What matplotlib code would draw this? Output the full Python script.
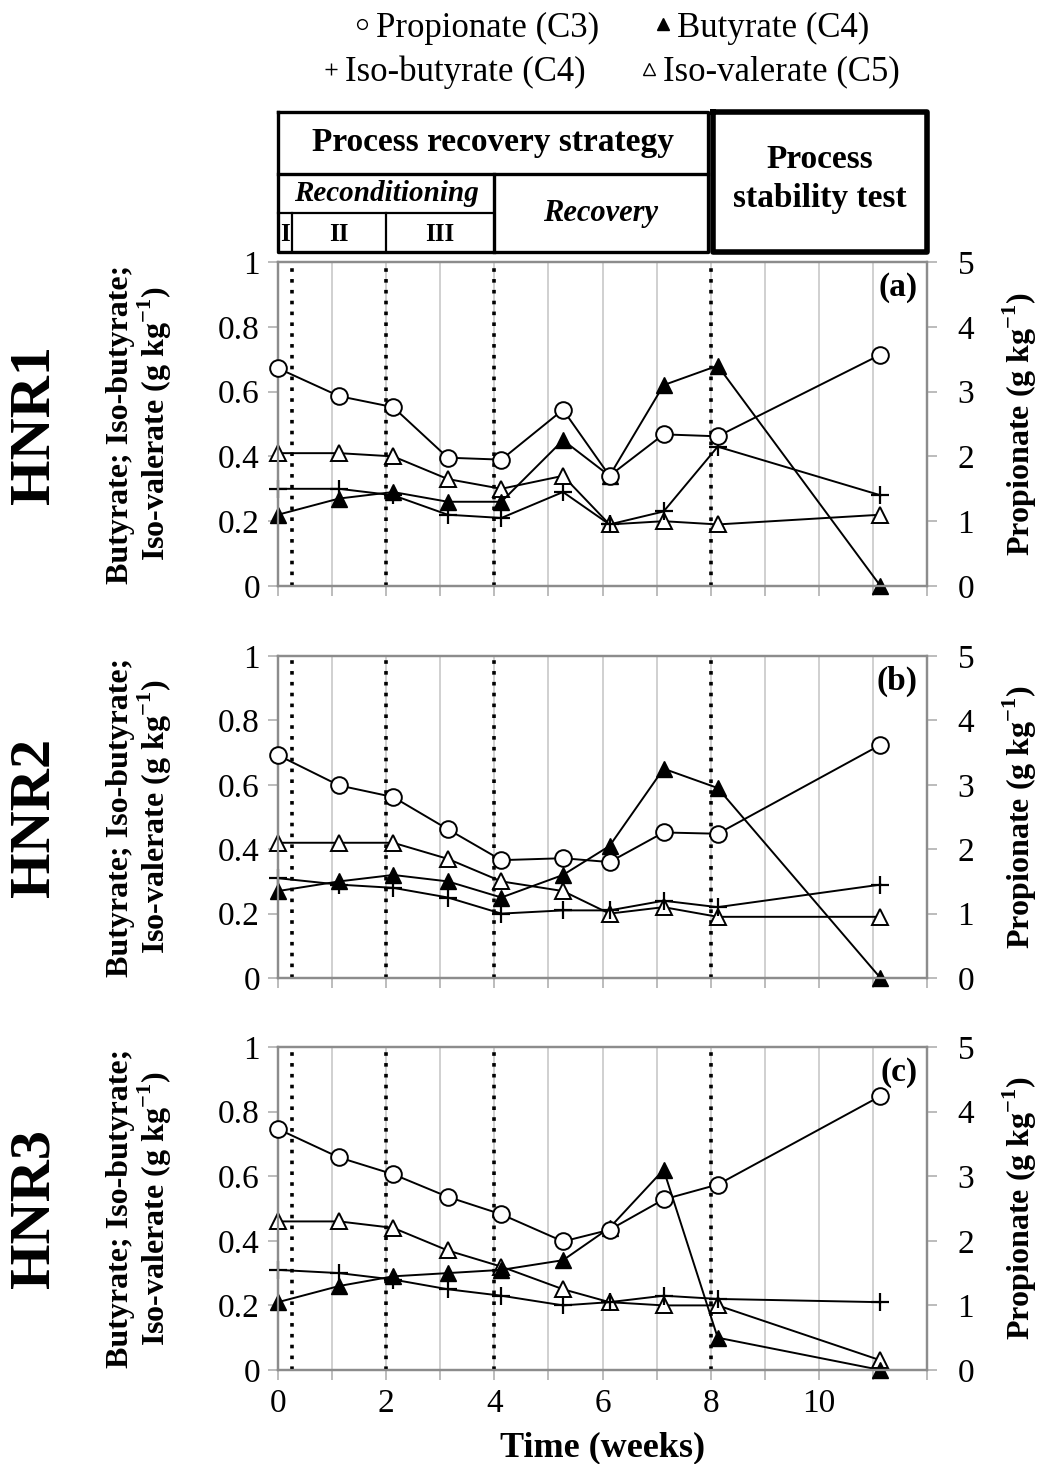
import numpy as np
import matplotlib
matplotlib.use('Agg')
import matplotlib.pyplot as plt
from matplotlib.lines import Line2D

plt.rcParams['font.family'] = ['Liberation Serif', 'DejaVu Serif']
plt.rcParams['mathtext.fontset'] = 'custom'
plt.rcParams['mathtext.rm'] = 'Liberation Serif'
plt.rcParams['mathtext.bf'] = 'Liberation Serif:bold'

# sampling times (weeks)
weeks = [0, 1.13, 2.13, 3.14, 4.13, 5.27, 6.13, 7.13, 8.13, 11.14]

# HNR1
prop1 = [3.36, 2.93, 2.76, 1.98, 1.95, 2.72, 1.70, 2.34, 2.31, 3.57]
but1 = [0.22, 0.27, 0.29, 0.26, 0.26, 0.45, 0.34, 0.62, 0.68, 0.00]
isobut1 = [0.30, 0.30, 0.28, 0.22, 0.21, 0.29, 0.19, 0.23, 0.43, 0.28]
isoval1 = [0.41, 0.41, 0.40, 0.33, 0.30, 0.34, 0.19, 0.20, 0.19, 0.22]

# HNR2
prop2 = [3.46, 2.99, 2.81, 2.31, 1.83, 1.86, 1.80, 2.26, 2.24, 3.62]
but2 = [0.27, 0.30, 0.32, 0.30, 0.25, 0.32, 0.41, 0.65, 0.59, 0.00]
isobut2 = [0.31, 0.29, 0.28, 0.25, 0.20, 0.21, 0.21, 0.24, 0.22, 0.29]
isoval2 = [0.42, 0.42, 0.42, 0.37, 0.30, 0.27, 0.20, 0.22, 0.19, 0.19]

# HNR3
prop3 = [3.73, 3.29, 3.03, 2.68, 2.41, 1.99, 2.17, 2.64, 2.87, 4.24]
but3 = [0.21, 0.26, 0.29, 0.30, 0.31, 0.34, 0.44, 0.62, 0.10, 0.00]
isobut3 = [0.31, 0.30, 0.28, 0.25, 0.23, 0.20, 0.21, 0.23, 0.22, 0.21]
isoval3 = [0.46, 0.46, 0.44, 0.37, 0.32, 0.25, 0.21, 0.20, 0.20, 0.03]

reactors = ['HNR1', 'HNR2', 'HNR3']
panel_tags = ['(a)', '(b)', '(c)']
phase_lines = [0.25, 2, 4, 8]

W, H = 1039, 1464
fig = plt.figure(figsize=(W / 100, H / 100), dpi=100)

left = 278 / W
width = 649 / W
panel_px = [(262, 586), (656, 978), (1047, 1370)]

series = [(prop1, but1, isobut1, isoval1),
          (prop2, but2, isobut2, isoval2),
          (prop3, but3, isobut3, isoval3)]

gray = '#8c8c8c'
ms = 11

for i, (top, bot) in enumerate(panel_px):
    prop, but, isobut, isoval = series[i]
    ax = fig.add_axes([left, (H - bot) / H, width, (bot - top) / H])
    ax2 = ax.twinx()

    ax.set_xlim(0, 12)
    ax.set_ylim(0, 1)
    ax2.set_ylim(0, 5)
    ax.set_xticks(np.arange(0, 13, 1))
    ax.set_xticklabels([str(t) if t % 2 == 0 and t < 12 else '' for t in range(13)])
    ax.set_yticks([0, 0.2, 0.4, 0.6, 0.8, 1])
    ax.set_yticklabels(['0', '0.2', '0.4', '0.6', '0.8', '1'])
    ax2.set_yticks(range(6))
    ax.grid(axis='x', color='#c8c8c8', lw=1.2)
    ax.set_axisbelow(True)

    for a in (ax, ax2):
        for s in a.spines.values():
            s.set_color(gray)
            s.set_linewidth(1.6)
        a.tick_params(direction='out', length=7, width=1.2, color='#b0b0b0',
                      labelsize=24, pad=6)
    ax2.tick_params(axis='y', pad=15)

    if i < 2:
        ax.tick_params(axis='x', labelbottom=False)

    for xv in phase_lines:
        ax.axvline(xv, color='black', ls=(0, (1, 2)), lw=2.6, zorder=3)

    ax.plot(weeks, isoval, color='black', lw=1.4, marker='^', ms=ms,
            mfc='white', mec='black', mew=1.4, zorder=4, clip_on=False)
    ax.plot(weeks, isobut, color='black', lw=1.4, marker='+', ms=ms + 2,
            mew=1.6, zorder=5, clip_on=False)
    ax.plot(weeks, but, color='black', lw=1.4, marker='^', ms=ms,
            mfc='black', mec='black', zorder=6, clip_on=False)
    ax2.plot(weeks, prop, color='black', lw=1.4, marker='o', ms=ms + 1,
             mfc='white', mec='black', mew=1.4, zorder=7, clip_on=False)

    ax.text(0.985, 0.97, panel_tags[i], transform=ax.transAxes, ha='right',
            va='top', fontsize=24, fontweight='bold')

    ax.set_ylabel('Butyrate; Iso-butyrate;\nIso-valerate (g kg$^{\\mathbf{-1}}$)',
                  fontsize=23, fontweight='bold', labelpad=32, linespacing=1.0)
    ax2.set_ylabel('Propionate (g kg$^{\\mathbf{-1}}$)', fontsize=23,
                   fontweight='bold', labelpad=19)

    fig.text(35 / W, 1 - (top + bot) / 2 / H, reactors[i], rotation=90,
             ha='center', va='center', fontsize=42, fontweight='bold')

    if i == 2:
        ax.set_xlabel('Time (weeks)', fontsize=26, fontweight='bold', labelpad=9)

# phase table above the plots
tb_top, tb_r1, tb_r2, tb_bot = 112, 174, 213, 252
axt = fig.add_axes([left, (H - tb_bot) / H, width, (tb_bot - tb_top) / H])
axt.set_xlim(0, 12)
axt.set_ylim(tb_bot, tb_top)
axt.axis('off')

lw_box = 2.4
k = 'black'
# recovery strategy block
axt.plot([0, 7.95, 7.95, 0, 0], [tb_top, tb_top, tb_bot, tb_bot, tb_top],
         color=k, lw=lw_box, clip_on=False)
axt.plot([0, 7.95], [tb_r1, tb_r1], color=k, lw=lw_box, clip_on=False)
axt.plot([0, 4], [tb_r2, tb_r2], color=k, lw=1.6, clip_on=False)
axt.plot([4, 4], [tb_r1, tb_bot], color=k, lw=lw_box, clip_on=False)
axt.plot([0.25, 0.25], [tb_r2, tb_bot], color=k, lw=1.6, clip_on=False)
axt.plot([2, 2], [tb_r2, tb_bot], color=k, lw=1.6, clip_on=False)
# stability block
axt.plot([8.05, 12, 12, 8.05, 8.05], [tb_top, tb_top, tb_bot, tb_bot, tb_top],
         color=k, lw=4, clip_on=False)

axt.text(3.97, (tb_top + tb_r1) / 2, 'Process recovery strategy', ha='center',
         va='center', fontsize=24, fontweight='bold')
axt.text(2.0, (tb_r1 + tb_r2) / 2, 'Reconditioning', ha='center', va='center',
         fontsize=21, fontweight='bold', style='italic')
axt.text(5.97, (tb_r1 + tb_bot) / 2, 'Recovery', ha='center', va='center',
         fontsize=22, fontweight='bold', style='italic')
for lbl, xc in zip(['I', 'II', 'III'], [0.125, 1.125, 3.0]):
    axt.text(xc, (tb_r2 + tb_bot) / 2 + 2, lbl, ha='center', va='center',
             fontsize=18, fontweight='bold')
axt.text(10.02, (tb_top + tb_bot) / 2 - 3, 'Process\nstability test', ha='center',
         va='center', fontsize=24, fontweight='bold', linespacing=1.3)

# legend, two centred rows
def handle(marker, face, size):
    return Line2D([], [], ls='none', marker=marker, mfc=face, mec='black',
                  color='black', ms=size, mew=1.0)

row1 = [handle('o', 'white', 7), handle('^', 'black', 8)]
row2 = [handle('+', 'white', 9), handle('^', 'white', 8)]
common = dict(loc='center', ncol=2, frameon=False, fontsize=25,
              handlelength=0.5, handletextpad=0.15, columnspacing=1.6,
              borderpad=0)
fig.legend(row1, ['Propionate (C3)', 'Butyrate (C4)'],
           bbox_to_anchor=(611 / W, 1 - 28 / H), **common)
fig.legend(row2, ['Iso-butyrate (C4)', 'Iso-valerate (C5)'],
           bbox_to_anchor=(611 / W, 1 - 72 / H), **common)

fig.savefig('out.png', dpi=100)
